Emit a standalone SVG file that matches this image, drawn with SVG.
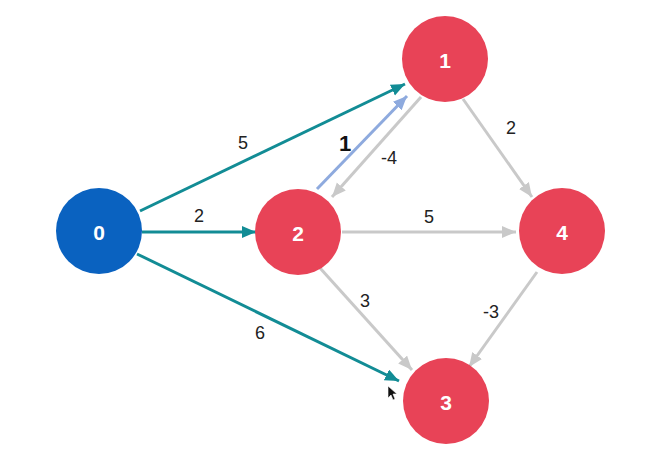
<svg xmlns="http://www.w3.org/2000/svg" width="660" height="462" viewBox="0 0 660 462">
<style>
.node text{font-family:"Liberation Sans",Arial,sans-serif;font-weight:bold;font-size:21px;fill:#fff;text-anchor:middle;dominant-baseline:central}
.lbl{font-family:"Liberation Sans",Arial,sans-serif;font-size:18px;fill:#222;text-anchor:middle;dominant-baseline:central}
.teal{stroke:#128c95;stroke-width:3;fill:none;marker-end:url(#mt)}
.gray{stroke:#c9c9c9;stroke-width:3;fill:none;marker-end:url(#mg)}
.lb{stroke:#8eaade;stroke-width:3;fill:none;marker-end:url(#mb)}
.red{fill:#e84357}
</style>
<defs>
<marker id="mt" markerUnits="userSpaceOnUse" markerWidth="16" markerHeight="14" refX="14" refY="6" orient="auto"><path d="M0,0 L14,6 L0,12 Z" fill="#128c95"/></marker>
<marker id="mg" markerUnits="userSpaceOnUse" markerWidth="16" markerHeight="14" refX="14" refY="6" orient="auto"><path d="M0,0 L14,6 L0,12 Z" fill="#c9c9c9"/></marker>
<marker id="mb" markerUnits="userSpaceOnUse" markerWidth="16" markerHeight="14" refX="14" refY="6" orient="auto"><path d="M0,0 L14,6 L0,12 Z" fill="#8eaade"/></marker>
</defs>
<rect width="660" height="462" fill="#fff"/>
<g id="edges">
<line class="teal" x1="140" y1="211" x2="405" y2="84"/>
<line class="teal" x1="142" y1="232" x2="256" y2="232"/>
<line class="teal" x1="137" y1="254" x2="399" y2="381"/>
<line class="lb" x1="317" y1="189" x2="407" y2="96"/>
<line class="gray" x1="421" y1="97" x2="332" y2="197"/>
<line class="gray" x1="463" y1="99" x2="532" y2="197"/>
<line class="gray" x1="342" y1="232" x2="516" y2="232"/>
<line class="gray" x1="320" y1="268" x2="412" y2="370"/>
<line class="gray" x1="537" y1="272" x2="469" y2="367"/>
<text class="lbl" x="243" y="143">5</text>
<text class="lbl" x="199" y="216">2</text>
<text class="lbl" x="260" y="333">6</text>
<text class="lbl" x="345" y="143" style="font-size:22px;font-weight:bold;fill:#111">1</text>
<text class="lbl" x="389" y="158">-4</text>
<text class="lbl" x="511" y="128">2</text>
<text class="lbl" x="429" y="217">5</text>
<text class="lbl" x="365" y="301">3</text>
<text class="lbl" x="491" y="312">-3</text>
</g>
<g id="n0" class="node"><circle cx="99" cy="231" r="43" fill="#0a62c0"/><text x="99" y="232">0</text></g>
<g id="n1" class="node"><circle class="red" cx="445" cy="59" r="43"/><text x="445" y="60">1</text></g>
<g id="n2" class="node"><circle class="red" cx="298" cy="232" r="43"/><text x="298" y="233">2</text></g>
<g id="n4" class="node"><circle class="red" cx="562" cy="231" r="43"/><text x="562" y="232">4</text></g>
<g id="n3" class="node"><circle class="red" cx="446" cy="401" r="43"/><text x="446" y="402">3</text></g>
<path d="M388,386 L388,398 L391,395 L393,400 L395,399 L393,394 L397,394 Z" fill="#111" stroke="#fff" stroke-width="0.6"/>
</svg>
